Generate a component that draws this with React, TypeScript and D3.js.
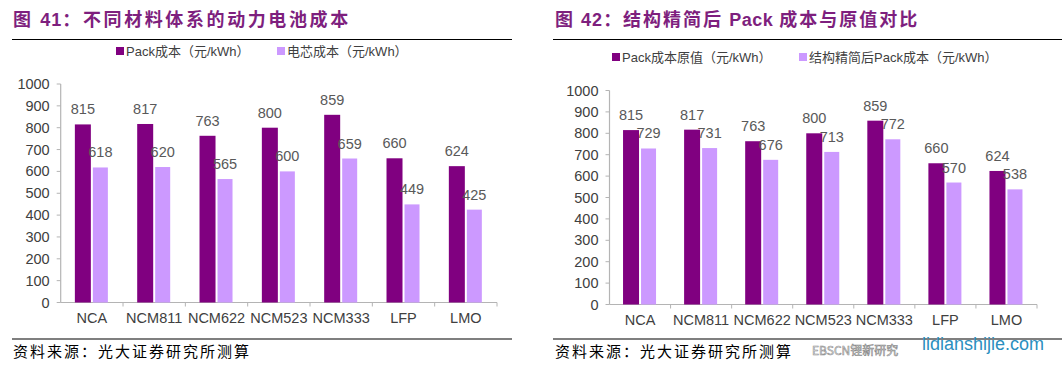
import React from "react";
import * as d3 from "d3";

const categories = ["NCA", "NCM811", "NCM622", "NCM523", "NCM333", "LFP", "LMO"];
const packCost = [815, 817, 763, 800, 859, 660, 624];
const cellCost = [618, 620, 565, 600, 659, 449, 425];
const packOriginal = [815, 817, 763, 800, 859, 660, 624];
const packSimplified = [729, 731, 676, 713, 772, 570, 538];
const yTicks = [0, 100, 200, 300, 400, 500, 600, 700, 800, 900, 1000];

const DARK = "#800080";
const LIGHT = "#CC99FF";
const TITLE = "#7E1F7E";
const AXIS = "#B4B4B4";
const CJK = "'Noto Sans CJK SC', 'Liberation Sans', sans-serif";
const MIXED = "'Liberation Sans', 'Noto Sans CJK SC', sans-serif";
const SANS = "'Liberation Sans', Arial, sans-serif";

type PanelProps = {
  title: React.ReactNode;
  titleSpacing: number;
  ruleX0: number;
  ruleX1: number;
  titleX: number;
  legendY: number;
  legend: { label: string; x: number; color: string }[];
  axisX0: number;
  axisX1: number;
  y0: number;
  y1000: number;
  a: number[];
  b: number[];
  labelY: number;
};

function Panel(p: PanelProps) {
  const x = d3.scaleBand<string>().domain(categories).range([p.axisX0, p.axisX1]).padding(0);
  const y = d3.scaleLinear().domain([0, 1000]).range([p.y0, p.y1000]);
  const bw = 16;
  const gap = 2;
  return (
    <g>
      <text x={p.titleX} y={26} fontFamily={CJK} fontWeight={700} fontSize={18} fill={TITLE} letterSpacing={p.titleSpacing}>
        {p.title}
      </text>
      <line x1={p.ruleX0} x2={p.ruleX1} y1={39.5} y2={39.5} stroke="#000" strokeWidth={1.2} />
      {p.legend.map((l, i) => (
        <g key={i}>
          <rect x={l.x} y={p.legendY - 4} width={8} height={8} fill={l.color} />
          <text x={l.x + 10} y={p.legendY + 4.5} fontFamily={MIXED} fontSize={13} fill="#404040">
            {l.label}
          </text>
        </g>
      ))}
      <line x1={p.axisX0} x2={p.axisX0} y1={y(1000)} y2={y(0)} stroke={AXIS} strokeWidth={1.2} />
      {yTicks.map((t) => (
        <g key={t}>
          <line x1={p.axisX0 - 4} x2={p.axisX0} y1={y(t)} y2={y(t)} stroke={AXIS} strokeWidth={1} />
          <text x={p.axisX0 - 11} y={y(t) + 5} textAnchor="end" fontFamily={SANS} fontSize={14.5} fill="#404040">
            {t}
          </text>
        </g>
      ))}
      <line x1={p.axisX0} x2={p.axisX1} y1={y(0)} y2={y(0)} stroke={AXIS} strokeWidth={1.2} />
      {categories.map((c, i) => (
        <line key={"t" + i} x1={x(c)! + x.bandwidth()} x2={x(c)! + x.bandwidth()} y1={y(0)} y2={y(0) + 4} stroke={AXIS} strokeWidth={1} />
      ))}
      {categories.map((c, i) => {
        const cx = x(c)! + x.bandwidth() / 2;
        const xa = cx - gap / 2 - bw;
        const xb = cx + gap / 2;
        return (
          <g key={c}>
            <rect x={xa} y={y(p.a[i])} width={bw} height={y(0) - y(p.a[i])} fill={DARK} />
            <rect x={xb} y={y(p.b[i])} width={bw - 1} height={y(0) - y(p.b[i])} fill={LIGHT} />
            <text x={xa + bw / 2} y={y(p.a[i]) - 10} textAnchor="middle" fontFamily={SANS} fontSize={14.5} fill="#595959">
              {p.a[i]}
            </text>
            <text x={xb + (bw - 1) / 2} y={y(p.b[i]) - 10} textAnchor="middle" fontFamily={SANS} fontSize={14.5} fill="#595959">
              {p.b[i]}
            </text>
            <text x={cx} y={p.labelY} textAnchor="middle" fontFamily={SANS} fontSize={14.5} fill="#404040">
              {c}
            </text>
          </g>
        );
      })}
      <line x1={p.ruleX0} x2={p.ruleX1} y1={339} y2={339} stroke="#000" strokeWidth={1.2} />
      <text x={p.titleX} y={357} fontFamily={CJK} fontSize={15} fill="#000" letterSpacing={2.0}>
        资料来源：光大证券研究所测算
      </text>
    </g>
  );
}

export default function App() {
  return (
    <svg width={1062} height={376} style={{ position: "absolute", left: 0, top: 0, background: "#fff" }}>
      <rect width={1062} height={376} fill="#fff" />
      <Panel
        title={
          <>
            <tspan>图 </tspan>
            <tspan fontFamily={SANS} letterSpacing={1}>41</tspan>
            <tspan>：不同材料体系的动力电池成本</tspan>
          </>
        }
        titleSpacing={2.6}
        titleX={13}
        ruleX0={12}
        ruleX1={512}
        legendY={51}
        legend={[
          { label: "Pack成本（元/kWh）", x: 116, color: DARK },
          { label: "电芯成本（元/kWh）", x: 277, color: LIGHT },
        ]}
        axisX0={60.7}
        axisX1={497}
        y0={302.5}
        y1000={84}
        a={packCost}
        b={cellCost}
        labelY={322.5}
      />
      <Panel
        title={
          <>
            <tspan>图 </tspan>
            <tspan fontFamily={SANS} letterSpacing={1}>42</tspan>
            <tspan>：结构精简后 </tspan>
            <tspan fontFamily={SANS} letterSpacing={0.5}>Pack</tspan>
            <tspan> 成本与原值对比</tspan>
          </>
        }
        titleSpacing={2.0}
        titleX={555}
        ruleX0={553}
        ruleX1={1062}
        legendY={57}
        legend={[
          { label: "Pack成本原值（元/kWh）", x: 612, color: DARK },
          { label: "结构精简后Pack成本（元/kWh）", x: 799, color: LIGHT },
        ]}
        axisX0={609.5}
        axisX1={1037}
        y0={304.5}
        y1000={90.5}
        a={packOriginal}
        b={packSimplified}
        labelY={325}
      />
      <text x={812} y={355} fontFamily={CJK} fontSize={12} fill="#fff" stroke="#8a8a8a" strokeWidth={0.6}>
        EBSCN锂新研究
      </text>
      <text x={922} y={350} fontFamily={SANS} fontSize={18} fill="#2B8FC0">
        lidianshijie.com
      </text>
    </svg>
  );
}
